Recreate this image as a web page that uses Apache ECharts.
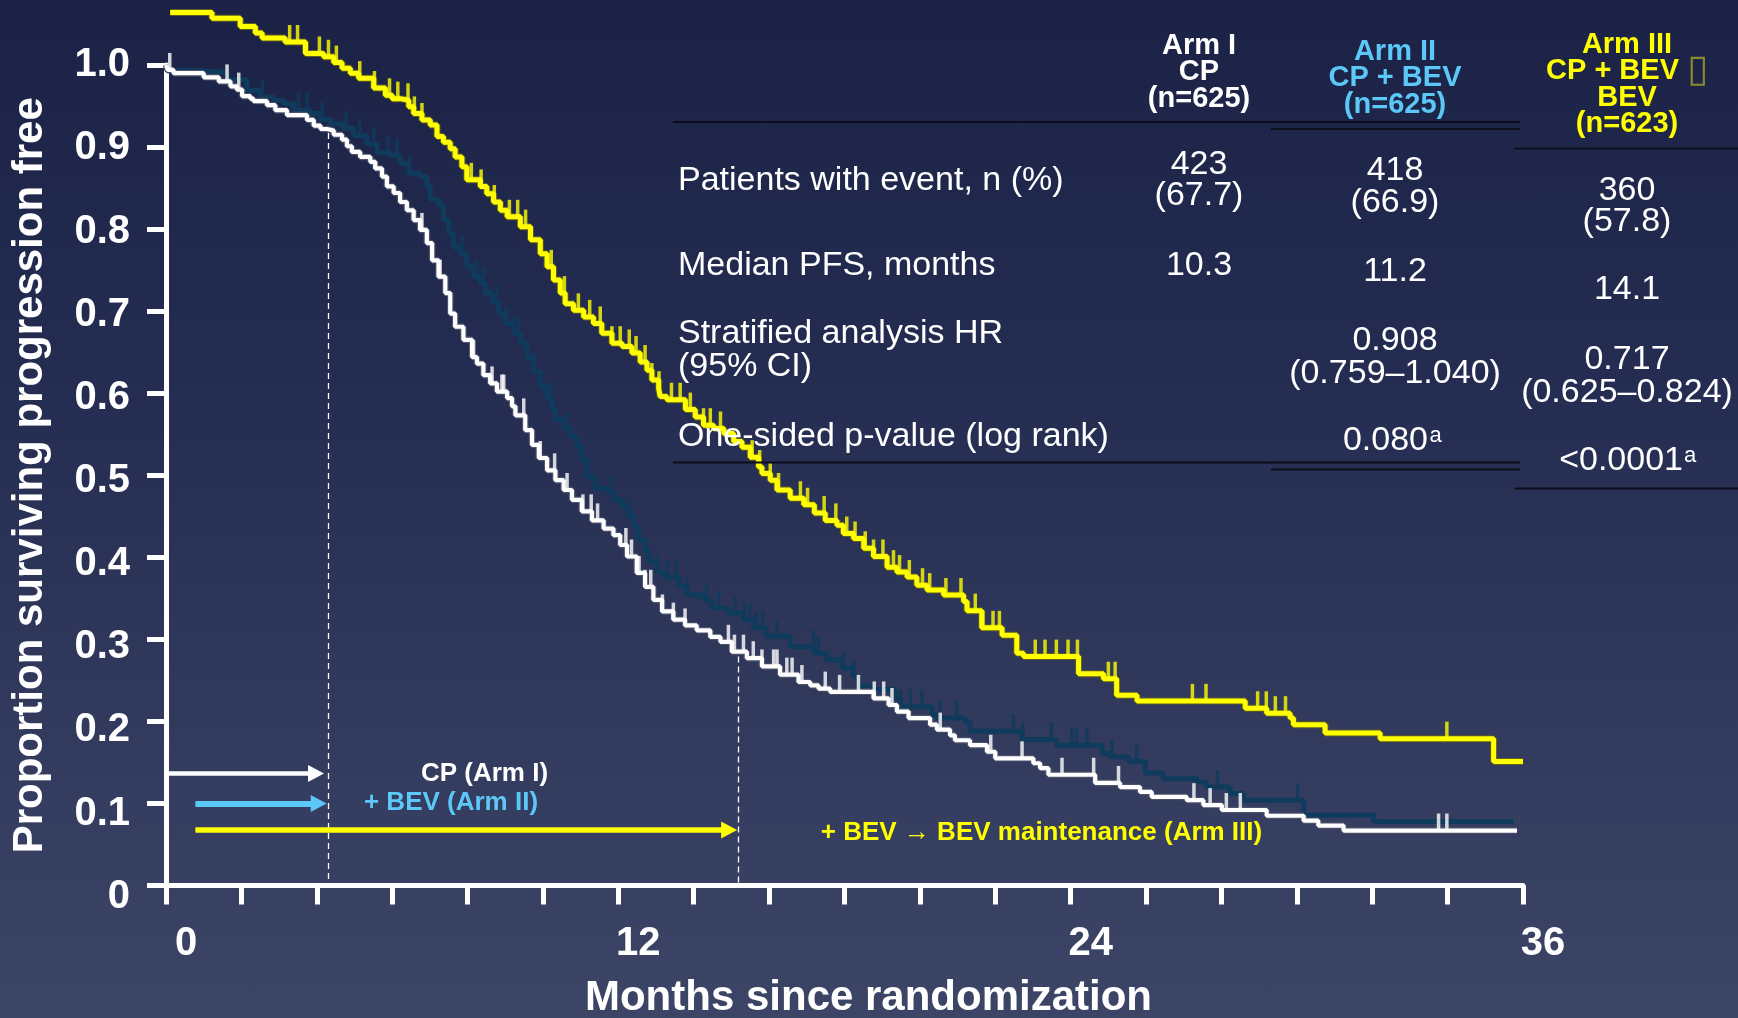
<!DOCTYPE html>
<html><head><meta charset="utf-8">
<script src="https://cdn.jsdelivr.net/npm/echarts@6/dist/echarts.min.js"></script>
<style>
html,body{margin:0;padding:0;background:#1b2246;}
#c{width:1738px;height:1018px;background:linear-gradient(180deg,#1b2246 0%,#252d52 40%,#3d4567 100%);}
</style>
</head><body><div id="c"></div>
<script>
// ---------------- data ----------------
// Kaplan-Meier steps: [month, proportion after the drop]
const armI = [[0,1.0],[0.05,0.994],[0.2,0.99],[1.0,0.985],[1.4,0.98],[1.71,0.974],[1.88,0.97],[2.02,0.962],[2.24,0.959],[2.32,0.956],[2.68,0.951],[2.9,0.945],[3.21,0.939],[3.74,0.933],[3.92,0.926],[4.1,0.922],[4.27,0.92],[4.45,0.915],[4.67,0.909],[4.8,0.901],[4.93,0.894],[5.15,0.888],[5.42,0.882],[5.55,0.874],[5.73,0.864],[5.86,0.852],[6.04,0.844],[6.21,0.833],[6.39,0.823],[6.57,0.811],[6.74,0.799],[6.92,0.783],[7.06,0.762],[7.23,0.742],[7.41,0.722],[7.54,0.697],[7.67,0.681],[7.89,0.665],[8.12,0.644],[8.25,0.636],[8.42,0.622],[8.6,0.612],[8.78,0.602],[9.05,0.594],[9.18,0.584],[9.27,0.573],[9.53,0.555],[9.71,0.537],[9.89,0.521],[10.11,0.506],[10.33,0.494],[10.55,0.482],[10.77,0.47],[11.03,0.456],[11.3,0.445],[11.61,0.435],[11.87,0.427],[12.05,0.415],[12.23,0.401],[12.49,0.381],[12.71,0.364],[12.93,0.348],[13.16,0.334],[13.46,0.324],[13.77,0.317],[14.08,0.311],[14.44,0.303],[14.71,0.297],[15.01,0.285],[15.41,0.277],[15.81,0.267],[16.29,0.257],[16.78,0.248],[17.09,0.244],[17.31,0.24],[17.62,0.236],[18.77,0.228],[19.17,0.22],[19.39,0.212],[19.7,0.204],[20.27,0.196],[20.45,0.19],[20.8,0.183],[20.93,0.177],[21.33,0.171],[21.78,0.163],[22.0,0.155],[23.01,0.149],[23.19,0.143],[23.41,0.135],[24.65,0.125],[25.31,0.12],[25.84,0.114],[26.15,0.108],[27.08,0.104],[27.52,0.098],[28.01,0.092],[29.2,0.085],[30.18,0.079],[30.57,0.073],[31.24,0.067],[35.84,0.067]];
const armII = [[0,1.0],[0.03,0.993],[1.0,0.991],[1.62,0.982],[2.15,0.969],[2.5,0.961],[2.86,0.957],[3.12,0.953],[3.39,0.945],[3.83,0.941],[4.09,0.934],[4.36,0.928],[4.71,0.923],[4.98,0.914],[5.33,0.904],[5.6,0.893],[5.95,0.89],[6.21,0.88],[6.44,0.868],[6.75,0.864],[6.92,0.852],[7.01,0.836],[7.23,0.829],[7.36,0.811],[7.5,0.795],[7.63,0.778],[7.81,0.77],[7.98,0.754],[8.16,0.742],[8.34,0.734],[8.47,0.722],[8.65,0.711],[8.82,0.697],[9.0,0.685],[9.22,0.673],[9.4,0.661],[9.58,0.644],[9.75,0.626],[9.93,0.608],[10.11,0.594],[10.24,0.58],[10.33,0.568],[10.55,0.557],[10.72,0.547],[10.9,0.535],[11.03,0.519],[11.17,0.498],[11.39,0.484],[11.7,0.48],[11.87,0.47],[12.09,0.462],[12.27,0.451],[12.4,0.437],[12.54,0.421],[12.71,0.409],[12.8,0.395],[13.02,0.382],[13.2,0.376],[13.6,0.364],[13.82,0.354],[14.26,0.348],[14.48,0.338],[14.92,0.332],[15.32,0.324],[15.58,0.314],[15.93,0.304],[16.56,0.291],[17.2,0.283],[17.53,0.275],[17.93,0.265],[18.24,0.255],[18.37,0.243],[18.73,0.239],[19.35,0.228],[19.48,0.218],[20.32,0.208],[20.45,0.204],[21.2,0.2],[21.33,0.188],[22.71,0.178],[23.63,0.171],[24.83,0.161],[25.05,0.157],[25.53,0.151],[25.98,0.137],[26.46,0.13],[27.35,0.126],[27.6,0.12],[28.23,0.112],[28.58,0.104],[30.18,0.086],[32.04,0.078],[35.75,0.078]];
const armIII = [[0.11,1.064],[1.22,1.057],[1.97,1.047],[2.37,1.039],[2.55,1.033],[3.16,1.028],[3.7,1.014],[4.18,1.01],[4.45,1.003],[4.67,0.996],[4.89,0.99],[5.11,0.984],[5.51,0.972],[5.82,0.963],[6.0,0.959],[6.21,0.957],[6.44,0.949],[6.57,0.941],[6.79,0.933],[7.01,0.927],[7.19,0.913],[7.36,0.906],[7.54,0.898],[7.67,0.888],[7.85,0.876],[7.98,0.86],[8.34,0.852],[8.51,0.843],[8.69,0.833],[8.87,0.823],[9.05,0.815],[9.4,0.803],[9.67,0.787],[9.93,0.77],[10.11,0.754],[10.28,0.738],[10.46,0.722],[10.59,0.709],[10.81,0.701],[11.08,0.693],[11.34,0.685],[11.56,0.673],[11.83,0.661],[12.1,0.657],[12.36,0.649],[12.58,0.638],[12.76,0.628],[12.89,0.616],[13.07,0.606],[13.11,0.596],[13.29,0.592],[13.78,0.58],[14.04,0.571],[14.26,0.561],[14.53,0.557],[14.8,0.551],[15.06,0.541],[15.28,0.534],[15.5,0.522],[15.72,0.51],[15.81,0.502],[16.03,0.494],[16.21,0.482],[16.56,0.472],[16.92,0.464],[17.2,0.454],[17.49,0.445],[17.8,0.439],[17.97,0.429],[18.24,0.423],[18.51,0.411],[18.77,0.401],[19.13,0.388],[19.39,0.382],[19.66,0.376],[19.92,0.366],[20.19,0.36],[20.63,0.354],[21.16,0.346],[21.25,0.335],[21.64,0.314],[22.18,0.305],[22.57,0.283],[22.75,0.279],[24.21,0.258],[24.87,0.252],[25.22,0.232],[25.76,0.225],[28.63,0.216],[29.2,0.21],[29.82,0.204],[29.91,0.196],[30.75,0.186],[32.21,0.179],[35.22,0.151],[36.0,0.151]];
// censoring tick times (months)
const armI_censor = [0.1,1.62,1.93,6.79,7.27,8.16,8.65,8.91,8.96,9.49,9.93,10.31,10.64,11.06,11.28,11.45,12.2,12.35,12.55,12.71,12.86,13.17,13.46,13.77,14.92,15.08,15.32,15.58,15.81,16.12,16.21,16.47,16.61,16.87,17.49,17.87,18.37,18.79,19.04,19.26,20.54,21.88,22.71,23.77,24.61,25.27,27.27,27.7,28.13,28.5,33.76,33.98];
const armII_censor = [2.56,3.52,3.74,4.14,4.78,5.14,5.51,5.9,6.13,6.46,7.85,8.25,8.42,8.78,9.04,9.22,9.35,10.22,10.64,11.81,12.27,13.02,13.29,13.55,13.82,14.35,14.66,15.1,15.32,15.5,15.66,15.83,16.21,17.18,17.31,17.97,18.24,19.48,19.75,20.05,20.54,20.98,22.48,22.73,23.49,24.03,24.16,24.43,25.09,25.75,27.9,30.02];
const armIII_censor = [3.28,3.49,4.07,4.31,4.52,5.14,5.53,5.93,6.15,6.42,6.59,6.79,8.1,8.36,8.71,9.11,9.33,9.54,10.22,10.57,10.94,11.24,11.52,11.83,12.05,12.29,12.47,12.71,12.89,13.08,13.41,13.64,13.91,14.26,14.44,14.71,15.55,15.75,16.03,16.25,16.83,17.02,17.46,17.77,18.06,18.28,18.55,18.77,19.02,19.3,19.46,19.72,20.07,20.26,20.69,21.09,21.47,21.67,21.94,22.11,23.06,23.32,23.62,23.93,24.18,25.0,25.18,27.23,27.59,28.96,29.19,29.43,29.7,33.98];
// treatment-period arrows: [start month, end month (arrow centre), level]
const cpArrow = [0.06, 3.98, 0.1366];
const bevArrow = [0.78, 4.05, 0.0998];
const maintArrow = [0.78, 14.94, 0.0676];
// dashed guide lines: [month, top level]
const guide1 = [4.3, 0.917];
const guide2 = [15.17, 0.279];
// axis tick labels
const xLabelMonths = [0, 12, 24, 36];
const yTicks = [0,0.1,0.2,0.3,0.4,0.5,0.6,0.7,0.8,0.9,1.0];
// table text
const rowLabels = ['Patients with event, n (%)', 'Median PFS, months', 'Stratified analysis HR\n(95% CI)', 'One-sided p-value (log rank)'];
const armHeaders = ['Arm I\nCP\n(n=625)', 'Arm II\nCP + BEV\n(n=625)', 'Arm III\nCP + BEV {box|\u25AF}\nBEV\n(n=623)'];
const armI_cells = ['423\n(67.7)', '10.3'];
const armII_cells = ['418\n(66.9)', '11.2', '0.908\n(0.759\u20131.040)', '0.080'];
const armIII_cells = ['360\n(57.8)', '14.1', '0.717\n(0.625\u20130.824)', '<0.0001'];
const footMark = 'a';

// ---------------- chart ----------------
const FONT = '"Liberation Sans", Arial, sans-serif';
const WHITE = '#ffffff', BLUE = '#5cc8f8', YELLOW = '#ffff00', TEAL = '#0f3b5c';

function levelAt(curve, t) {
  let v = curve[0][1];
  for (const p of curve) { if (p[0] <= t) v = p[1]; else break; }
  return v;
}
const censorPts = (curve, times) => times.map(t => [t, levelAt(curve, t)]);

const chart = echarts.init(document.getElementById('c'), null, {renderer: 'canvas'});

function stepLine(data, color, width, z) {
  return {type: 'line', data: data, step: 'end', symbol: 'none', clip: false, z: z,
    lineStyle: {color: color, width: width}, silent: true, animation: false};
}
function censor(data, color, z) {
  return {type: 'scatter', data: data, symbol: 'rect', symbolSize: [3.5, 17], symbolOffset: [0, -8.5],
    itemStyle: {color: color}, clip: false, z: z, silent: true, animation: false};
}

const T = (text, x, y, color, size, weight, align, lh, rich) => {
  const style = {text: text, fill: color, font: (weight || 'normal') + ' ' + size + 'px ' + FONT,
    align: align || 'center', verticalAlign: 'middle', lineHeight: lh || size};
  if (rich) style.rich = rich;
  return {type: 'text', x: x, y: y, silent: true, z: 50, style: style};
};
const L = (x1, y1, x2, y2) => ({type: 'line', silent: true, z: 40,
  shape: {x1: x1, y1: y1, x2: x2, y2: y2}, style: {stroke: '#0c0e1c', lineWidth: 2}});

const colX = [1199, 1395, 1627];
const boxRich = {box: {fill: '#8a8a2e', fontSize: 38, fontWeight: 'normal', fontFamily: '"DejaVu Sans", sans-serif', lineHeight: 26.5}};
const graphics = [
  T(armHeaders[0], colX[0], 72, WHITE, 29, 'bold', 'center', 26.5),
  T(armHeaders[1], colX[1], 78, BLUE, 29, 'bold', 'center', 26.5),
  T(armHeaders[2], colX[2], 84.5, YELLOW, 29, 'bold', 'center', 26.5, boxRich),
  L(673, 122, 1520, 122), L(1271, 129, 1520, 129), L(1514, 148.5, 1738, 148.5),
  L(673, 462.5, 1520, 462.5), L(1271, 469.5, 1520, 469.5), L(1514, 488.5, 1738, 488.5),
  T(rowLabels[0], 678, 181, WHITE, 34, 'normal', 'left', 32),
  T(rowLabels[1], 678, 265.5, WHITE, 34, 'normal', 'left', 32),
  T(rowLabels[2], 678, 350, WHITE, 34, 'normal', 'left', 33),
  T(rowLabels[3], 678, 437, WHITE, 34, 'normal', 'left', 32),
  T(armI_cells[0], colX[0], 180.5, WHITE, 34, 'normal', 'center', 31),
  T(armI_cells[1], colX[0], 265.5, WHITE, 34, 'normal', 'center', 32),
  T(armII_cells[0], colX[1], 187, WHITE, 34, 'normal', 'center', 32),
  T(armII_cells[1], colX[1], 272, WHITE, 34, 'normal', 'center', 32),
  T(armII_cells[2], colX[1], 357, WHITE, 34, 'normal', 'center', 32.5),
  T(armII_cells[3], 1428, 441, WHITE, 34, 'normal', 'right', 34),
  T(footMark, 1429.5, 436, WHITE, 22, 'normal', 'left', 22),
  T(armIII_cells[0], colX[2], 206, WHITE, 34, 'normal', 'center', 31.6),
  T(armIII_cells[1], colX[2], 290, WHITE, 34, 'normal', 'center', 32),
  T(armIII_cells[2], colX[2], 376.5, WHITE, 34, 'normal', 'center', 33),
  T(armIII_cells[3], 1683, 461, WHITE, 34, 'normal', 'right', 34),
  T(footMark, 1684, 456, WHITE, 22, 'normal', 'left', 22),
  T('CP (Arm I)', 484.5, 773.5, WHITE, 26, 'bold'),
  T('+ BEV (Arm II)', 451, 802.5, BLUE, 26, 'bold'),
  T('+ BEV \u2192 BEV maintenance (Arm III)', 1041.5, 833, YELLOW, 26, 'bold')
];

const arrowItem = (a, color, w) => [
  {coord: [a[0], a[2]], symbol: 'none', lineStyle: {color: color, width: w, type: 'solid'}, itemStyle: {color: color}},
  {coord: [a[1], a[2]], symbol: 'triangle', symbolSize: [17, 16], itemStyle: {color: color}}
];
const guideItem = (g) => [
  {coord: [g[0], g[1]], symbol: 'none', lineStyle: {color: '#ffffff', width: 1.3, type: [6, 4]}},
  {coord: [g[0], 0], symbol: 'none'}
];

// y labels sit slightly lower than their ticks toward the bottom of the axis
const yRich = {};
yTicks.forEach((t, k) => {
  yRich['o' + k] = {color: WHITE, fontSize: 40, fontWeight: 'bold', fontFamily: FONT,
    padding: [Math.round(23 * (1 - t)), 0, 0, 0]};
});

const option = {
  backgroundColor: 'transparent',
  animation: false,
  textStyle: {fontFamily: FONT},
  grid: {left: 166, right: 215, top: 65, bottom: 132.5, containLabel: false, outerBoundsMode: 'none'},
  xAxis: {
    type: 'value', min: 0, max: 36, interval: 2,
    name: 'Months since randomization', nameLocation: 'middle', nameGap: 91.5,
    nameTextStyle: {color: WHITE, fontSize: 42, fontWeight: 'bold', fontFamily: FONT, padding: [0, 0, 0, 48]},
    axisLine: {lineStyle: {color: WHITE, width: 5}},
    axisTick: {length: 19, lineStyle: {color: WHITE, width: 5}},
    splitLine: {show: false},
    axisLabel: {color: WHITE, fontSize: 40, fontWeight: 'bold', fontFamily: FONT, margin: 38,
      padding: [0, 0, 0, 40],
      formatter: v => (xLabelMonths.indexOf(v) >= 0 ? String(v) : '')}
  },
  yAxis: {
    type: 'value', min: 0, max: 1, interval: 0.1,
    name: 'Proportion surviving progression free', nameLocation: 'middle', nameGap: 115,
    nameTextStyle: {color: WHITE, fontSize: 42, fontWeight: 'bold', fontFamily: FONT},
    axisLine: {show: true, lineStyle: {color: WHITE, width: 5}},
    axisTick: {show: true, length: 19, lineStyle: {color: WHITE, width: 5}},
    splitLine: {show: false},
    axisLabel: {color: WHITE, fontSize: 40, fontWeight: 'bold', fontFamily: FONT, margin: 36,
      rich: yRich,
      formatter: v => { const k = yTicks.findIndex(t => Math.abs(t - v) < 1e-6);
        if (k < 0) return '';
        return '{o' + k + '|' + (k === 0 ? '0' : yTicks[k].toFixed(1)) + '}'; }}
  },
  series: [
    Object.assign(stepLine(armII, TEAL, 5, 3), {
      markLine: {silent: true, animation: false, label: {show: false}, emphasis: {disabled: true},
        data: [guideItem(guide1), guideItem(guide2),
               arrowItem(cpArrow, WHITE, 4.5), arrowItem(bevArrow, BLUE, 6), arrowItem(maintArrow, YELLOW, 5.5)]}
    }),
    censor(censorPts(armII, armII_censor), TEAL, 3),
    stepLine(armI, '#4d536c', 6.5, 4),
    stepLine(armI, WHITE, 4.2, 5),
    censor(censorPts(armI, armI_censor), WHITE, 5),
    stepLine(armIII, '#5d5d22', 7, 6),
    stepLine(armIII, YELLOW, 5, 7),
    censor(censorPts(armIII, armIII_censor), YELLOW, 7)
  ],
  graphic: graphics
};
chart.setOption(option);
</script>
</body></html>
